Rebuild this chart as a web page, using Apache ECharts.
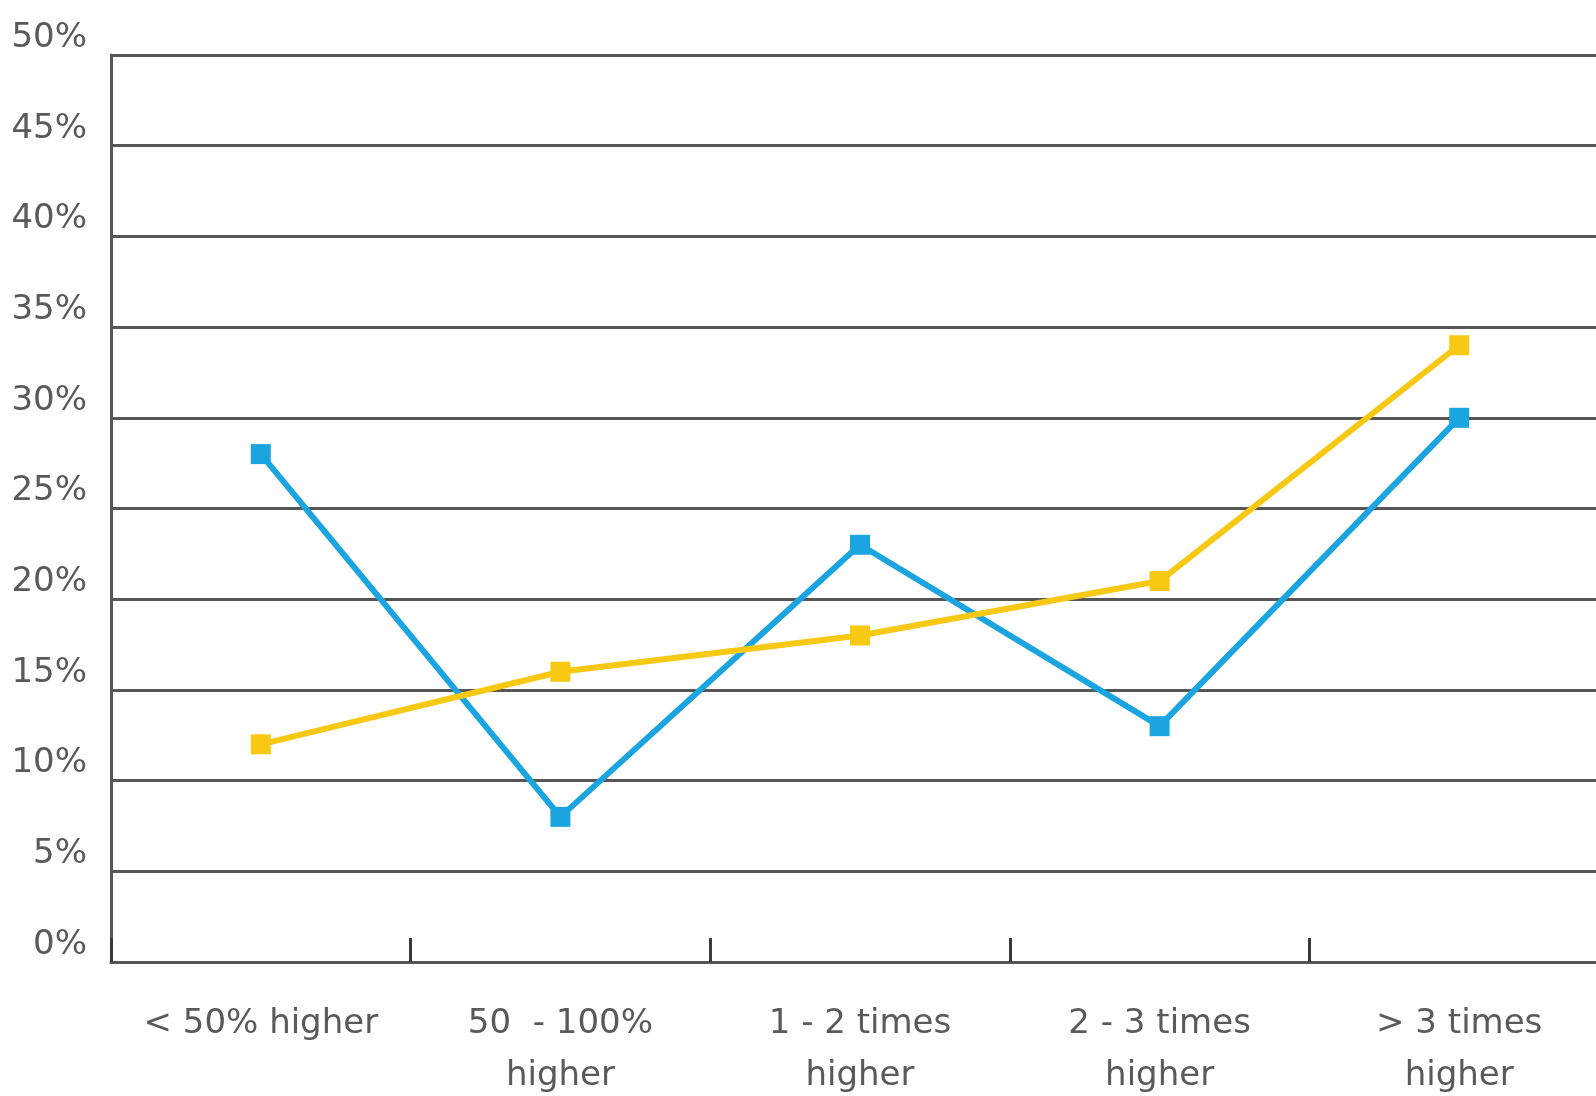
<!DOCTYPE html>
<html>
<head>
<meta charset="utf-8">
<title>Price premium distribution</title>
<script src="https://cdn.jsdelivr.net/npm/echarts@6/dist/echarts.min.js"></script>
<style>
  html, body { margin: 0; padding: 0; background: #ffffff; }
  #chart { width: 1596px; height: 1096px; }
</style>
</head>
<body>
<div id="chart"></div>
<script>
// Categories along the horizontal axis
const categories = ['< 50% higher', '50  - 100%\nhigher', '1 - 2 times\nhigher', '2 - 3 times\nhigher', '> 3 times\nhigher'];

// Series values, in percent
const blueValues = [28, 8, 23, 13, 30];
const yellowValues = [12, 16, 18, 21, 34];

// Value axis range and step
const yMin = 0;
const yMax = 50;
const yStep = 5;

const gridColor = '#565656';
const labelColor = '#5a5a5a';
const fontFamily = '"DejaVu Sans", Verdana, sans-serif';

const chart = echarts.init(document.getElementById('chart'), null, { renderer: 'canvas' });

chart.setOption({
  backgroundColor: '#ffffff',
  animation: false,
  // The plot runs past the right edge of the page, so the last category is cut off
  grid: { left: 111, top: 55, width: 1498, height: 907, containLabel: false, outerBoundsMode: 'none' },
  xAxis: {
    type: 'category',
    data: categories,
    boundaryGap: true,
    axisLine: { show: true, lineStyle: { color: gridColor, width: 3 } },
    axisTick: { show: true, inside: true, length: 24, lineStyle: { color: '#3a3a3a', width: 3 } },
    axisLabel: {
      color: labelColor,
      fontFamily: fontFamily,
      fontSize: 34,
      lineHeight: 52,
      margin: 36,
      interval: 0
    },
    splitLine: { show: false }
  },
  yAxis: {
    type: 'value',
    min: yMin,
    max: yMax,
    interval: yStep,
    axisLine: { show: true, lineStyle: { color: gridColor, width: 3 } },
    axisTick: { show: false },
    axisLabel: {
      formatter: '{value}%',
      color: labelColor,
      fontFamily: fontFamily,
      fontSize: 34,
      margin: 24,
      verticalAlign: 'bottom'
    },
    splitLine: { show: true, lineStyle: { color: gridColor, width: 3 } }
  },
  series: [
    {
      name: 'Blue',
      type: 'line',
      data: blueValues,
      symbol: 'rect',
      symbolSize: 20,
      lineStyle: { color: '#1aa5e0', width: 6 },
      itemStyle: { color: '#1aa5e0' },
      z: 3
    },
    {
      name: 'Yellow',
      type: 'line',
      data: yellowValues,
      symbol: 'rect',
      symbolSize: 20,
      lineStyle: { color: '#f9c812', width: 6 },
      itemStyle: { color: '#f9c812' },
      z: 4
    }
  ]
});
</script>
</body>
</html>
